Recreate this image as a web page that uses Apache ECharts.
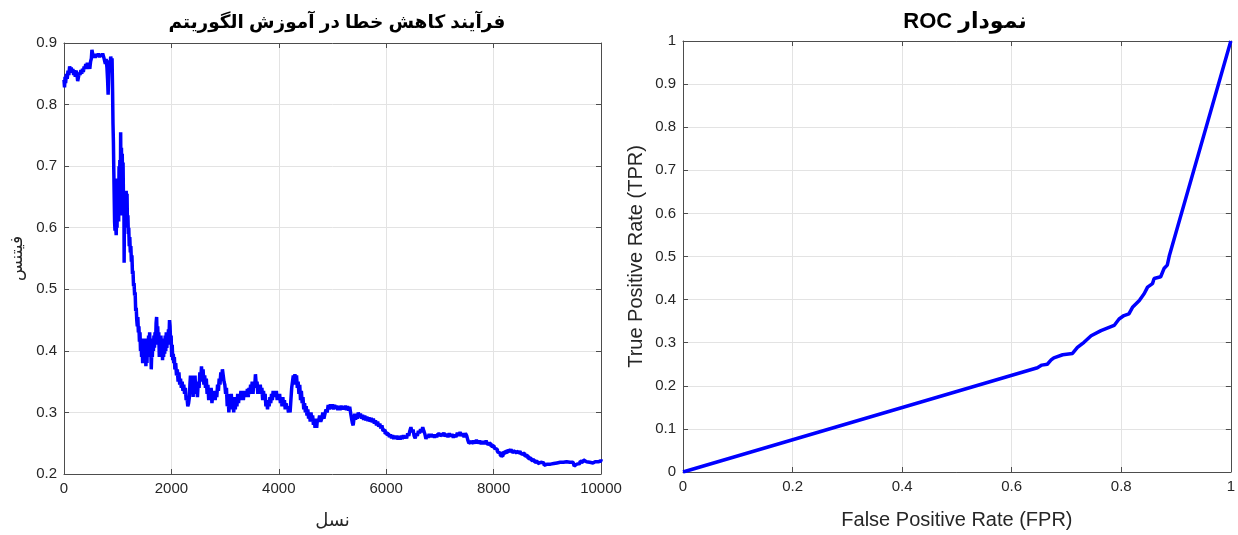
<!DOCTYPE html>
<html>
<head>
<meta charset="utf-8">
<script src="https://cdn.jsdelivr.net/npm/echarts@6/dist/echarts.min.js"></script>
<style>
html,body{margin:0;padding:0;background:#fff;}
#c{width:1238px;height:535px;}
</style>
</head>
<body>
<div id="c"></div>
<script>
// Left chart: fitness per generation, [generation, fitness]
const fitnessPoints = [
[0,0.84],[10,0.828],[20,0.845],[30,0.835],[45,0.85],[60,0.842],[75,0.855],[90,0.848],[105,0.862],[120,0.855],[135,0.86],[150,0.852],[165,0.858],[180,0.848],[195,0.856],[210,0.845],[225,0.855],[240,0.85],[255,0.838],[270,0.845],[285,0.852],[300,0.848],[315,0.856],[330,0.85],[345,0.858],[360,0.853],[375,0.862],[390,0.858],[405,0.866],[420,0.86],[435,0.868],[450,0.858],[465,0.864],[480,0.858],[495,0.87],[510,0.875],[520,0.889],[535,0.882],[550,0.876],[565,0.882],[580,0.876],[600,0.882],[620,0.878],[640,0.883],[660,0.877],[680,0.882],[700,0.878],[720,0.883],[740,0.877],[755,0.88],[770,0.866],[785,0.874],[800,0.86],[812,0.84],[822,0.816],[832,0.85],[845,0.872],[858,0.865],[870,0.878],[885,0.868],[895,0.875],
[905,0.82],[912,0.77],[920,0.74],[928,0.69],[935,0.65],[942,0.61],[950,0.595],[958,0.64],[965,0.6],[972,0.588],[980,0.62],[988,0.6],[995,0.68],[1003,0.62],[1010,0.66],[1018,0.61],[1025,0.7],[1032,0.63],[1040,0.71],[1048,0.62],[1055,0.755],[1062,0.65],[1070,0.73],[1078,0.64],[1085,0.72],[1093,0.62],[1100,0.706],[1108,0.64],[1115,0.66],[1120,0.543],[1127,0.65],[1135,0.6],[1142,0.66],[1150,0.61],[1158,0.66],[1166,0.62],[1174,0.655],[1182,0.6],[1190,0.62],[1198,0.59],[1206,0.6],[1215,0.57],[1225,0.585],[1235,0.56],[1245,0.57],[1255,0.545],[1265,0.555],[1275,0.525],[1285,0.53],[1295,0.505],[1305,0.51],[1315,0.49],[1325,0.495],[1335,0.465],[1345,0.47],
[1355,0.45],[1365,0.44],[1375,0.455],[1385,0.43],[1395,0.44],[1405,0.415],[1415,0.43],[1425,0.4],[1435,0.42],[1445,0.39],[1455,0.41],[1465,0.38],[1475,0.4],[1485,0.385],[1495,0.42],[1505,0.39],[1515,0.41],[1525,0.375],[1535,0.4],[1545,0.38],[1555,0.42],[1565,0.39],[1575,0.425],[1585,0.395],[1595,0.43],[1605,0.4],[1615,0.41],[1625,0.37],[1635,0.4],[1645,0.39],[1655,0.42],[1665,0.4],[1675,0.425],[1685,0.405],[1695,0.43],[1705,0.41],[1715,0.445],[1725,0.455],[1735,0.42],[1745,0.44],[1755,0.41],[1765,0.43],[1775,0.39],[1785,0.415],[1795,0.395],[1805,0.425],[1815,0.39],[1825,0.415],[1835,0.385],[1845,0.41],[1855,0.39],[1865,0.42],[1875,0.395],[1885,0.425],[1895,0.4],[1905,0.43],[1915,0.405],[1925,0.42],[1935,0.41],[1945,0.435],[1955,0.42],[1965,0.45],[1975,0.44],[1985,0.415],[1995,0.425],[2005,0.39],[2015,0.41],[2025,0.385],[2035,0.395],[2045,0.38],[2055,0.39],[2065,0.37],[2080,0.38],[2095,0.36],[2110,0.37],[2125,0.35],[2140,0.365],[2155,0.345],[2170,0.355],[2185,0.34],[2200,0.35],[2215,0.335],[2230,0.345],[2245,0.33],[2260,0.34],[2275,0.32],[2290,0.325],[2305,0.31],[2320,0.315],[2335,0.325],[2345,0.345],[2355,0.36],[2365,0.34],[2375,0.36],[2385,0.335],[2395,0.35],[2405,0.325],[2415,0.355],[2425,0.335],[2440,0.36],[2455,0.33],[2470,0.345],[2485,0.325],[2500,0.35],[2515,0.34],[2530,0.365],[2545,0.35],[2560,0.375],[2575,0.355],[2590,0.37],[2605,0.345],[2620,0.36],[2635,0.34],[2650,0.355],[2665,0.33],[2680,0.345],[2695,0.32],[2710,0.34],[2725,0.325],[2740,0.34],[2755,0.315],[2770,0.33],[2785,0.32],[2800,0.335],[2815,0.32],[2830,0.335],[2845,0.325],[2860,0.345],[2875,0.335],[2890,0.355],[2905,0.345],[2920,0.365],[2935,0.355],[2950,0.37],[2965,0.36],[2980,0.35],[2995,0.345],
[3010,0.33],[3025,0.34],[3040,0.31],[3055,0.33],[3070,0.3],[3085,0.325],[3100,0.305],[3115,0.33],[3130,0.31],[3145,0.325],[3160,0.3],[3175,0.32],[3190,0.305],[3205,0.325],[3220,0.31],[3235,0.33],[3250,0.315],[3265,0.33],[3280,0.32],[3295,0.335],[3310,0.32],[3325,0.33],[3340,0.32],[3355,0.335],[3370,0.325],[3385,0.335],[3400,0.325],[3415,0.338],[3430,0.325],[3445,0.34],[3460,0.33],[3475,0.345],[3490,0.335],[3505,0.35],[3520,0.33],[3535,0.35],[3550,0.34],[3565,0.362],[3580,0.345],[3595,0.35],[3610,0.33],[3625,0.345],[3640,0.33],[3655,0.345],[3670,0.33],[3685,0.34],[3700,0.32],[3715,0.335],[3730,0.32],[3745,0.33],[3760,0.31],[3775,0.32],[3790,0.305],[3805,0.32],[3820,0.31],[3835,0.325],[3850,0.315],[3865,0.33],[3880,0.32],[3895,0.335],[3910,0.325],[3925,0.335],[3940,0.325],[3955,0.335],[3970,0.32],[3985,0.33],
[4000,0.32],[4015,0.33],[4030,0.315],[4045,0.325],[4060,0.31],[4075,0.325],[4090,0.31],[4105,0.32],[4120,0.305],[4135,0.315],[4150,0.305],[4165,0.31],[4180,0.3],[4195,0.31],[4210,0.3],[4225,0.32],[4240,0.34],[4255,0.35],[4270,0.36],[4285,0.345],[4300,0.362],[4315,0.35],[4330,0.36],[4345,0.34],[4360,0.35],[4375,0.33],[4390,0.345],[4405,0.32],[4420,0.335],[4435,0.315],[4450,0.325],[4465,0.305],[4480,0.315],[4495,0.3],[4510,0.31],[4525,0.295],[4540,0.305],[4555,0.29],[4570,0.3],[4585,0.285],[4600,0.3],[4615,0.285],[4630,0.295],[4645,0.28],[4660,0.29],[4675,0.275],[4690,0.285],[4705,0.275],[4720,0.29],[4740,0.285],[4760,0.295],[4780,0.285],[4800,0.29],[4820,0.3],[4840,0.29],[4860,0.298],[4880,0.305],[4900,0.3],[4920,0.312],[4940,0.305],[4960,0.313],[4980,0.306],
[5000,0.313],[5020,0.305],[5040,0.312],[5060,0.306],[5080,0.311],[5100,0.304],[5120,0.31],[5140,0.304],[5160,0.311],[5180,0.305],[5200,0.31],[5220,0.305],[5240,0.311],[5260,0.304],[5280,0.31],[5300,0.303],[5320,0.309],[5340,0.298],[5355,0.29],[5370,0.283],[5385,0.279],[5400,0.29],[5415,0.298],[5430,0.288],[5445,0.297],[5460,0.29],[5480,0.3],[5500,0.292],[5520,0.298],[5540,0.29],[5560,0.296],[5580,0.288],[5600,0.295],[5620,0.287],[5640,0.293],[5660,0.286],[5680,0.292],[5700,0.285],[5720,0.291],[5740,0.284],[5760,0.29],[5780,0.282],[5800,0.287],[5820,0.279],[5840,0.285],[5860,0.277],[5880,0.282],[5900,0.274],[5920,0.279],[5940,0.27],[5960,0.272],[5980,0.265],
[6000,0.268],[6020,0.262],[6040,0.266],[6060,0.26],[6080,0.264],[6100,0.258],[6120,0.263],[6140,0.257],[6160,0.262],[6180,0.257],[6200,0.262],[6220,0.256],[6240,0.261],[6260,0.256],[6280,0.262],[6300,0.257],[6320,0.263],[6340,0.258],[6360,0.262],[6380,0.258],[6400,0.266],[6420,0.262],[6440,0.27],[6460,0.276],[6480,0.268],[6500,0.272],[6520,0.262],[6540,0.258],[6560,0.266],[6580,0.262],[6600,0.27],[6620,0.266],[6640,0.273],[6660,0.268],[6680,0.276],[6700,0.27],[6720,0.265],[6740,0.257],[6760,0.263],[6780,0.259],[6800,0.265],[6820,0.26],[6840,0.265],[6860,0.26],[6880,0.264],[6900,0.259],[6920,0.264],[6940,0.26],[6960,0.265],
[7000,0.261],[7025,0.266],[7050,0.262],[7075,0.267],[7100,0.261],[7125,0.265],[7150,0.26],[7175,0.266],[7200,0.261],[7225,0.265],[7250,0.259],[7275,0.264],[7300,0.26],[7325,0.267],[7350,0.262],[7375,0.268],[7400,0.262],[7425,0.266],[7450,0.26],[7475,0.266],[7500,0.262],[7520,0.255],[7540,0.25],[7560,0.253],[7590,0.249],[7620,0.254],[7650,0.25],[7680,0.255],[7710,0.25],[7740,0.254],[7770,0.249],[7800,0.253],[7830,0.249],[7860,0.254],[7890,0.248],[7920,0.25],[7950,0.245],[7980,0.246],
[8010,0.242],[8040,0.24],[8070,0.236],[8100,0.234],[8125,0.23],[8150,0.229],[8175,0.236],[8200,0.233],[8225,0.238],[8250,0.235],[8275,0.24],[8300,0.236],[8325,0.24],[8350,0.235],[8375,0.238],[8400,0.234],[8430,0.237],[8460,0.233],[8490,0.237],[8520,0.232],[8550,0.234],[8580,0.229],[8610,0.23],[8640,0.225],[8670,0.226],[8700,0.222],[8730,0.223],[8760,0.219],[8790,0.221],[8820,0.217],[8850,0.219],[8880,0.216],[8910,0.218],[8940,0.214],[8970,0.216],
[9000,0.213],[9030,0.216],[9060,0.214],[9090,0.217],[9120,0.215],[9150,0.218],[9180,0.216],[9210,0.219],[9240,0.216],[9270,0.219],[9300,0.217],[9330,0.22],[9360,0.217],[9390,0.219],[9420,0.216],[9450,0.219],[9480,0.217],[9500,0.213],[9520,0.216],[9550,0.219],[9580,0.217],[9610,0.221],[9640,0.219],[9670,0.223],[9700,0.22],[9730,0.222],[9760,0.219],[9790,0.222],[9820,0.218],[9850,0.215],[9870,0.22],[9890,0.223],[9920,0.22],[9950,0.222],[9980,0.221],[10000,0.224]
];

// Right chart: ROC curve
const fprValues = [0,0.647,0.655,0.665,0.672,0.677,0.693,0.711,0.72,0.732,0.745,0.763,0.787,0.796,0.805,0.814,0.821,0.833,0.842,0.848,0.857,0.86,0.872,0.878,0.884,0.888,1];
const tprValues = [0,0.242,0.248,0.25,0.26,0.265,0.272,0.275,0.289,0.301,0.316,0.328,0.34,0.355,0.363,0.367,0.383,0.398,0.414,0.429,0.437,0.449,0.453,0.472,0.48,0.503,1];

const leftTitle = 'فرآیند کاهش خطا در آموزش الگوریتم';
const rightTitle = '\u202Bنمودار ROC\u202C';
const leftXName = 'نسل';
const leftYName = 'فیتنس';
const rightXName = 'False Positive Rate (FPR)';
const rightYName = 'True Positive Rate (TPR)';

const FONT = '"Liberation Sans", Arial, "DejaVu Sans", sans-serif';
const AX = '#4d4d4d';
const TXT = '#262626';
const GRIDC = '#e3e3e3';

function mainAxis(opts){
  return Object.assign({
    type:'value',
    axisLine:{show:true,lineStyle:{color:AX,width:1}},
    axisTick:{show:true,inside:true,length:5,lineStyle:{color:AX}},
    axisLabel:{color:TXT,fontSize:15,fontFamily:FONT,margin:7,formatter:function(v){return String(+v.toFixed(4));}},
    splitLine:{show:true,lineStyle:{color:GRIDC,width:1}},
    nameTextStyle:{color:TXT,fontFamily:FONT}
  },opts);
}
function mirrorAxis(opts){
  return Object.assign({
    type:'value',
    axisLine:{show:true,onZero:false,lineStyle:{color:AX,width:1}},
    axisTick:{show:true,inside:true,length:5,lineStyle:{color:AX}},
    axisLabel:{show:false},
    splitLine:{show:false}
  },opts);
}

const rocData = fprValues.map((f,i)=>[f,tprValues[i]]);

const chart = echarts.init(document.getElementById('c'),null,{renderer:'canvas'});
chart.setOption({
  backgroundColor:'#fff',
  animation:false,
  title:[
    {text:leftTitle,left:332,top:8,textAlign:'center',textStyle:{fontSize:18.5,fontWeight:'bold',color:'#000',fontFamily:FONT}},
    {text:rightTitle,left:960,top:6,textAlign:'center',textStyle:{fontSize:22,fontWeight:'bold',color:'#000',fontFamily:FONT}}
  ],
  grid:[
    {left:64,top:43,width:537,height:434,containLabel:false},
    {left:683,top:41,width:553,height:432,containLabel:false}
  ],
  xAxis:[
    mainAxis({gridIndex:0,min:0,max:10000,interval:2000,position:'bottom',
      name:leftXName,nameLocation:'middle',nameGap:38,nameTextStyle:{color:TXT,fontSize:18,fontFamily:FONT}}),
    mirrorAxis({gridIndex:0,min:0,max:10000,interval:2000,position:'top'}),
    mainAxis({gridIndex:1,min:0,max:1,interval:0.2,position:'bottom',
      name:rightXName,nameLocation:'middle',nameGap:38,nameTextStyle:{color:TXT,fontSize:20,fontFamily:FONT}}),
    mirrorAxis({gridIndex:1,min:0,max:1,interval:0.2,position:'top'})
  ],
  yAxis:[
    mainAxis({gridIndex:0,min:0.2,max:0.9,interval:0.1,position:'left',
      name:leftYName,nameLocation:'middle',nameGap:38,nameTextStyle:{color:TXT,fontSize:17,fontFamily:FONT}}),
    mirrorAxis({gridIndex:0,min:0.2,max:0.9,interval:0.1,position:'right'}),
    mainAxis({gridIndex:1,min:0,max:1,interval:0.1,position:'left',
      name:rightYName,nameLocation:'middle',nameGap:37,nameTextStyle:{color:TXT,fontSize:20,fontFamily:FONT}}),
    mirrorAxis({gridIndex:1,min:0,max:1,interval:0.1,position:'right'})
  ],
  series:[
    {type:'line',xAxisIndex:0,yAxisIndex:0,data:fitnessPoints,showSymbol:false,symbol:'none',step:'end',
      lineStyle:{color:'#0000ff',width:3.5},silent:true},
    {type:'line',xAxisIndex:2,yAxisIndex:2,data:rocData,showSymbol:false,symbol:'none',
      lineStyle:{color:'#0000ff',width:3.5},silent:true}
  ]
});
</script>
</body>
</html>
